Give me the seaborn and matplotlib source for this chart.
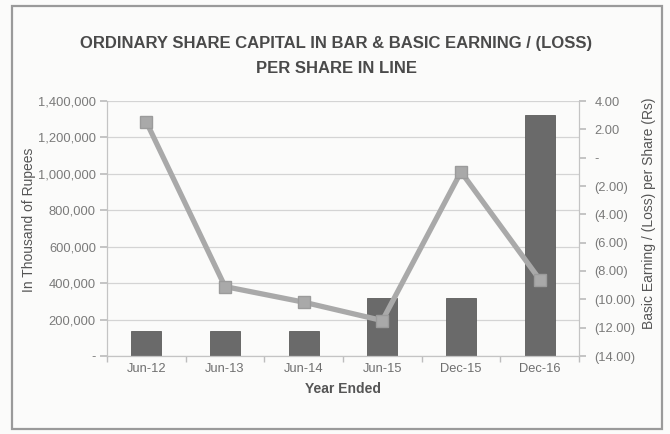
import matplotlib
matplotlib.use("Agg")
import matplotlib.pyplot as plt
from matplotlib.patches import Rectangle
from matplotlib.ticker import FuncFormatter, FixedLocator
import seaborn as sns
import pandas as pd

# Share capital (in thousand of rupees) and basic earning / (loss) per share
years = ["Jun-12", "Jun-13", "Jun-14", "Jun-15", "Dec-15", "Dec-16"]
share_capital = [137000, 137000, 137000, 318000, 318000, 1324000]
eps = [2.52, -9.10, -10.20, -11.50, -1.00, -8.60]

left_ticks = [0, 200000, 400000, 600000, 800000, 1000000, 1200000, 1400000]
right_ticks = [4, 2, 0, -2, -4, -6, -8, -10, -12, -14]

df = pd.DataFrame({"year": years, "capital": share_capital, "eps": eps})

sns.set_theme(style="white")
plt.rcParams["font.family"] = ["Liberation Sans", "DejaVu Sans"]

fig = plt.figure(figsize=(6.70, 4.34), dpi=100)
fig.patch.set_facecolor("#fbfbfa")

# outer chart frame
fig.patches.append(Rectangle((12 / 670, 1 - 429 / 434), 650 / 670, 423 / 434,
                             transform=fig.transFigure, fill=False,
                             edgecolor="#9a9a9a", linewidth=1.6))

ax = fig.add_axes([107 / 670, 1 - 356 / 434, 472 / 670, 255 / 434])
ax.set_facecolor("none")

sns.barplot(data=df, x="year", y="capital", ax=ax, color="#6a6a6a",
            width=0.38, saturation=1, edgecolor="#5c5c5c", linewidth=0.6)
ax.set_ylim(0, 1400000)
ax.set_xlim(-0.5, len(years) - 0.5)
ax.yaxis.set_major_locator(FixedLocator(left_ticks))
ax.yaxis.set_major_formatter(FuncFormatter(lambda v, p: "-" if v == 0 else f"{v:,.0f}"))
ax.grid(axis="y", color="#d4d4d4", linewidth=0.9)
ax.set_axisbelow(True)

ax.xaxis.set_major_locator(FixedLocator(range(len(years))))
ax.set_xticklabels(years)
ax.set_xticks([i - 0.5 for i in range(len(years) + 1)], minor=True)
ax.tick_params(axis="x", which="major", length=0, pad=5, labelsize=9.3, labelcolor="#6f6f6f")
ax.tick_params(axis="x", which="minor", length=4, color="#bdbdbd", direction="out", bottom=True)
ax.tick_params(axis="y", length=5, color="#bdbdbd", direction="out", left=True,
               labelsize=9.3, labelcolor="#7a7a7a", pad=3)

for side in ["top", "right"]:
    ax.spines[side].set_visible(False)
for side in ["left", "bottom"]:
    ax.spines[side].set_color("#c4c4c4")
    ax.spines[side].set_linewidth(0.9)

ax.set_xlabel("Year Ended", fontsize=10, fontweight="bold", color="#555555", labelpad=5)
ax.set_ylabel("In Thousand of Rupees", fontsize=10, color="#555555")
ax.yaxis.set_label_coords(-0.150, 0.533)

# EPS line on the secondary axis
ax2 = ax.twinx()
sns.pointplot(data=df, x="year", y="eps", ax=ax2, color="#a9a9a9",
              markers="s", markersize=8, linewidth=3.8,
              markeredgecolor="#9b9b9b", markeredgewidth=1.0)
ax2.set_ylim(-14, 4)
ax2.set_xlim(-0.5, len(years) - 0.5)
ax2.yaxis.set_major_locator(FixedLocator(right_ticks))
ax2.yaxis.set_major_formatter(FuncFormatter(
    lambda v, p: "-" if v == 0 else (f"({abs(v):.2f})" if v < 0 else f"{v:.2f}")))
ax2.tick_params(axis="y", length=5, color="#bdbdbd", direction="out", right=True,
                labelsize=9.3, labelcolor="#7a7a7a", pad=6)
for side in ["top", "left", "bottom"]:
    ax2.spines[side].set_visible(False)
ax2.spines["right"].set_color("#c4c4c4")
ax2.spines["right"].set_linewidth(0.9)
ax2.set_xlabel("")
ax2.set_ylabel("Basic Earning / (Loss) per Share (Rs)", fontsize=10, color="#555555")
ax2.yaxis.set_label_coords(1.134, 0.56)
ax2.grid(False)

fig.text(336 / 670, 1 - 56 / 434,
         "ORDINARY SHARE CAPITAL IN BAR & BASIC EARNING / (LOSS)\nPER SHARE IN LINE",
         ha="center", va="center", fontsize=12, fontweight="bold", color="#4a4a4a",
         linespacing=1.85)

fig.savefig("out.png", dpi=100, facecolor=fig.get_facecolor())
